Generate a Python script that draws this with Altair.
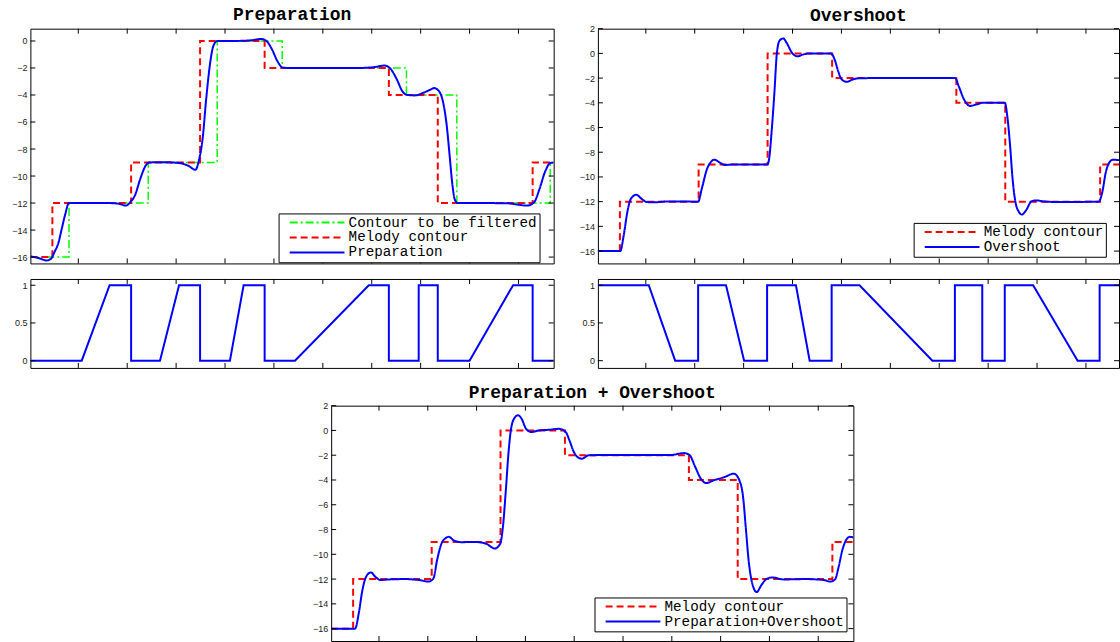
import altair as alt
import pandas as pd

# ---------------- data ----------------
X_MIN = 0.02
X_MAX = 10.72
X_MAX_RIGHT = 10.676

x_tick_values = [1, 2, 3, 4, 5, 6, 7, 8, 9, 10]
prep_y_ticks = [-16, -14, -12, -10, -8, -6, -4, -2, 0]
full_y_ticks = [-16, -14, -12, -10, -8, -6, -4, -2, 0, 2]
weight_y_ticks = [0, 0.5, 1]

melody_x = [0.02, 0.47, 2.08, 3.49, 4.81, 7.35, 8.35, 10.29, 10.72]
melody_y = [-16, -12, -9, 0, -2, -4, -12, -9, -9]
target_x = [0.02, 0.81, 2.43, 3.84, 5.17, 7.71, 8.74, 10.65, 10.72]
target_y = [-16, -12, -9, 0, -2, -4, -12, -9, -9]

prep_x = [0.02, 0.188, 0.356, 0.443, 0.516, 0.589, 0.662, 0.735, 0.808, 1.245, 1.61, 1.828,
          1.974, 2.062, 2.156, 2.266, 2.375, 2.448, 2.703, 3.068, 3.25, 3.396, 3.468, 3.541,
          3.614, 3.687, 3.76, 3.84, 4.161, 4.525, 4.744, 4.853, 4.963, 5.072, 5.181, 5.327,
          5.983, 6.712, 7.076, 7.259, 7.368, 7.514, 7.623, 7.733, 7.878, 8.06, 8.207, 8.279,
          8.374, 8.461, 8.534, 8.593, 8.644, 8.695, 8.753, 9.263, 9.774, 9.992, 10.174, 10.32,
          10.43, 10.539, 10.648, 10.72]
prep_y = [-15.95, -16.07, -16.25, -16.12, -15.6, -15.0, -13.9, -12.8, -12.0, -12.0, -12.0, -12.05,
          -12.19, -11.94, -11.45, -10.22, -9.24, -9.0, -8.97, -9.04, -9.24, -9.54, -8.8, -7.27,
          -4.33, -1.87, -0.39, 0.0, 0.0, 0.05, 0.15, -0.02, -0.64, -1.5, -1.97, -2.0,
          -2.0, -2.0, -1.92, -1.82, -2.0, -2.85, -3.71, -4.0, -4.03, -3.83, -3.59, -3.49,
          -3.71, -4.57, -6.29, -8.5, -10.47, -11.7, -12.0, -12.0, -12.02, -12.12, -12.19, -11.94,
          -10.96, -9.73, -9.04, -9.0]

over_x = [0.02, 0.477, 0.549, 0.622, 0.694, 0.803, 0.912, 1.02, 1.165, 1.455, 2.071, 2.144,
          2.252, 2.325, 2.397, 2.506, 2.615, 2.76, 3.484, 3.521, 3.571, 3.629, 3.68, 3.738,
          3.811, 3.883, 3.992, 4.1, 4.209, 4.354, 4.789, 4.862, 4.934, 5.007, 5.115, 5.224,
          5.369, 5.659, 7.326, 7.398, 7.507, 7.63, 7.761, 7.906, 8.341, 8.399, 8.449, 8.5,
          8.558, 8.631, 8.689, 8.776, 8.884, 8.993, 9.138, 9.428, 10.261, 10.334, 10.406,
          10.479, 10.551, 10.646, 10.72]
over_y = [-16.0, -16.0, -14.7, -12.84, -11.77, -11.44, -11.77, -12.03, -12.05, -11.98, -12.0, -10.96,
          -9.35, -8.82, -8.6, -8.82, -9.03, -9.0, -9.0, -8.55, -6.4, -3.19, 0.03, 1.05,
          1.21, 0.83, 0.03, -0.24, -0.1, 0.0, 0.0, -0.51, -1.45, -2.12, -2.3, -2.12,
          -2.01, -2.0, -2.0, -2.65, -3.73, -4.25, -4.13, -3.99, -4.0, -5.33, -7.48, -10.16,
          -12.03, -12.84, -13.05, -12.7, -11.98, -11.9, -11.98, -12.03, -12.0, -11.23, -9.62,
          -8.82, -8.6, -8.63, -8.65]

both_x = [0.02, 0.51, 0.585, 0.66, 0.736, 0.834, 0.924, 1.037, 1.188, 1.527, 1.828, 2.017,
          2.115, 2.19, 2.281, 2.356, 2.431, 2.544, 2.695, 2.959, 3.185, 3.373, 3.486, 3.539,
          3.599, 3.652, 3.712, 3.788, 3.848, 3.923, 4.014, 4.127, 4.277, 4.466, 4.692, 4.827,
          4.903, 4.993, 5.069, 5.159, 5.295, 5.521, 6.953, 7.254, 7.367, 7.48, 7.593, 7.706,
          7.857, 8.083, 8.271, 8.384, 8.46, 8.52, 8.573, 8.648, 8.738, 8.836, 8.949, 9.062,
          9.288, 9.74, 10.117, 10.245, 10.343, 10.419, 10.494, 10.569, 10.645, 10.72]
both_y = [-16.0, -16.0, -14.77, -12.89, -11.81, -11.46, -11.81, -12.08, -12.03, -12.0, -12.08, -12.2,
          -11.95, -10.47, -9.13, -8.72, -8.59, -8.91, -9.02, -9.0, -9.13, -9.53, -9.13, -7.79,
          -4.83, -1.88, 0.27, 1.07, 1.23, 0.94, 0.13, -0.13, 0.0, 0.05, 0.13, -0.13,
          -0.81, -1.74, -2.15, -2.28, -2.01, -1.99, -1.99, -1.83, -2.01, -2.95, -3.89, -4.25,
          -4.03, -3.76, -3.49, -4.03, -5.37, -8.05, -10.47, -12.35, -13.05, -12.48, -11.97, -11.87,
          -12.03, -12.0, -12.08, -12.2, -12.03, -11.0, -9.66, -8.86, -8.59, -8.64]

wprep_x = [0.02, 1.07, 1.64, 2.08, 2.08, 2.67, 3.06, 3.49, 3.49, 4.1, 4.38, 4.81, 4.81, 5.43, 6.94,
           7.35, 7.35, 7.96, 7.96, 8.35, 8.35, 9.0, 9.89, 10.29, 10.29, 10.72]
wprep_y = [0, 0, 1, 1, 0, 0, 1, 1, 0, 0, 1, 1, 0, 0, 1, 1, 0, 0, 1, 1, 0, 0, 1, 1, 0, 0]

wover_x = [0.02, 1.06, 1.6, 2.07, 2.07, 2.64, 3.01, 3.48, 3.48, 4.07, 4.35, 4.8, 4.8, 5.37, 6.86,
           7.32, 7.32, 7.88, 7.88, 8.34, 8.34, 8.92, 9.83, 10.28, 10.28, 10.72]
wover_y = [1, 1, 0, 0, 1, 1, 0, 0, 1, 1, 0, 0, 1, 1, 0, 0, 1, 1, 0, 0, 1, 1, 0, 0, 1, 1]

S_TARGET = "Contour to be filtered"
S_MELODY = "Melody contour"
S_PREP = "Preparation"
S_OVER = "Overshoot"
S_BOTH = "Preparation+Overshoot"

COLORS = {S_TARGET: "#00ff00", S_MELODY: "#ff0000", S_PREP: "#0000ff", S_OVER: "#0000ff", S_BOTH: "#0000ff"}
DASHES = {S_TARGET: [8, 3, 2, 3], S_MELODY: [7, 4], S_PREP: [1, 0], S_OVER: [1, 0], S_BOTH: [1, 0]}

LABEL_FONT = "Liberation Sans"
MONO = "Liberation Mono"


def df(xs, ys, name):
    return pd.DataFrame({"x": xs, "y": ys, "series": [name] * len(xs)})


def y_axis(vals):
    return alt.Axis(values=vals, ticks=False, domain=False, grid=False, title=None,
                    labelFont=LABEL_FONT, labelFontSize=9, labelColor="#222222",
                    labelPadding=3.5, labelFlush=False, labelOverlap=False, format="~g")


def tick_layers(xmin, xmax, ymin, ymax, yvals, xs, ys, yax):
    xt = pd.DataFrame({"t": x_tick_values})
    yt = pd.DataFrame({"t": yvals})
    st = dict(color="black", strokeWidth=1)
    left = alt.Chart(yt).mark_rule(x2Offset=5, **st).encode(
        y=alt.Y("t:Q", scale=ys, axis=yax),
        x=alt.XDatum(xmin, scale=xs, axis=None), x2=alt.X2Datum(xmin))
    right = alt.Chart(yt).mark_rule(x2Offset=-5, **st).encode(
        y=alt.Y("t:Q", scale=ys, axis=yax),
        x=alt.XDatum(xmax, scale=xs, axis=None), x2=alt.X2Datum(xmax))
    top = alt.Chart(xt).mark_rule(y2Offset=5, **st).encode(
        x=alt.X("t:Q", scale=xs, axis=None),
        y=alt.YDatum(ymax, scale=ys, axis=yax), y2=alt.Y2Datum(ymax))
    bottom = alt.Chart(xt).mark_rule(y2Offset=-5, **st).encode(
        x=alt.X("t:Q", scale=xs, axis=None),
        y=alt.YDatum(ymin, scale=ys, axis=yax), y2=alt.Y2Datum(ymin))
    return [left, right, top, bottom]


def make_legend(lx, ly):
    return alt.Legend(title=None, orient="none", legendX=lx, legendY=ly, direction="vertical",
                      fillColor="white", strokeColor="black", padding=2,
                      labelFont=MONO, labelFontSize=14.3, labelColor="black", labelLimit=500,
                      symbolType="M-5.5,0H5.5", symbolSize=100, symbolStrokeWidth=2,
                      symbolOffset=29.5, labelOffset=24.5, rowPadding=0)


def main_panel(title, series, width, height, xdom, ydom, yvals, legend_xy, title_offset):
    xs = alt.Scale(domain=xdom, nice=False, zero=False)
    ys = alt.Scale(domain=ydom, nice=False, zero=False)
    yax = y_axis(yvals)
    names = [s[2] for s in series]
    cs = alt.Scale(domain=names, range=[COLORS[n] for n in names])
    ds = alt.Scale(domain=names, range=[DASHES[n] for n in names])
    leg = make_legend(*legend_xy)
    layers = []
    for xv, yv, name, interp, sw in series:
        layers.append(
            alt.Chart(df(xv, yv, name)).mark_line(interpolate=interp, strokeWidth=sw, clip=True).encode(
                x=alt.X("x:Q", scale=xs, axis=None),
                y=alt.Y("y:Q", scale=ys, axis=yax),
                color=alt.Color("series:N", scale=cs, legend=leg, sort=names),
                strokeDash=alt.StrokeDash("series:N", scale=ds, legend=leg, sort=names),
            )
        )
    layers += tick_layers(xdom[0], xdom[1], ydom[0], ydom[1], yvals, xs, ys, yax)
    return alt.layer(*layers).properties(
        width=width, height=height,
        title=alt.TitleParams(title, font=MONO, fontSize=18, fontWeight="bold",
                              anchor="middle", offset=title_offset, color="black"))


def weight_panel(xv, yv, width, height, xdom):
    ydom = [-0.096, 1.083]
    xs = alt.Scale(domain=xdom, nice=False, zero=False)
    ys = alt.Scale(domain=ydom, nice=False, zero=False)
    yax = y_axis(weight_y_ticks)
    line = alt.Chart(pd.DataFrame({"x": xv, "y": yv})).mark_line(
        color="#0000ff", strokeWidth=2, clip=True).encode(
        x=alt.X("x:Q", scale=xs, axis=None),
        y=alt.Y("y:Q", scale=ys, axis=yax))
    layers = [line] + tick_layers(xdom[0], xdom[1], ydom[0], ydom[1], weight_y_ticks, xs, ys, yax)
    return alt.layer(*layers).properties(width=width, height=height)


W_LEFT = 525.4
W_RIGHT = 523.2
W_BOTTOM = 524.3
H_MAIN = 235.7
H_SMALL = 89.3

prep_main = main_panel(
    "Preparation",
    [(target_x, target_y, S_TARGET, "step-after", 1.5),
     (melody_x, melody_y, S_MELODY, "step-after", 2),
     (prep_x, prep_y, S_PREP, "monotone", 2)],
    W_LEFT, H_MAIN, [X_MIN, X_MAX], [-16.47, 0.91], prep_y_ticks, (249.2, 185.5), 4.5)

over_main = main_panel(
    "Overshoot",
    [(melody_x, melody_y, S_MELODY, "step-after", 2),
     (over_x, over_y, S_OVER, "monotone", 2)],
    W_RIGHT, H_MAIN, [X_MIN, X_MAX_RIGHT], [-17, 2], full_y_ticks, (317, 195), 0)

both_main = main_panel(
    "Preparation + Overshoot",
    [(melody_x, melody_y, S_MELODY, "step-after", 2),
     (both_x, both_y, S_BOTH, "monotone", 2)],
    W_BOTTOM, 236.3, [X_MIN, X_MAX], [-17, 2], full_y_ticks, (264.4, 192.6), 0)

prep_w = weight_panel(wprep_x, wprep_y, W_LEFT, H_SMALL, [X_MIN, X_MAX])
over_w = weight_panel(wover_x, wover_y, W_RIGHT, H_SMALL, [X_MIN, X_MAX_RIGHT])

spacer = alt.Chart(pd.DataFrame({"a": [0]})).mark_point(opacity=0).encode(
    x=alt.X("a:Q", axis=None), y=alt.Y("a:Q", axis=None)
).properties(width=280.7, height=10, view=alt.ViewBackground(stroke="transparent"))

IND = dict(color="independent", strokeDash="independent")

left_col = alt.vconcat(prep_main, prep_w, spacing=13.3).resolve_scale(**IND)
right_col = alt.vconcat(over_main, over_w, spacing=13.3).resolve_scale(**IND)
row1 = alt.hconcat(left_col, right_col, spacing=22.8).resolve_scale(**IND)
row2 = alt.hconcat(spacer, both_main, spacing=0).resolve_scale(**IND)

chart = alt.vconcat(row1, row2, spacing=13.5).resolve_scale(**IND).properties(
    padding={"left": 10.5, "top": 3.5, "right": 0, "bottom": 0},
    background="white",
).configure_view(stroke="black", strokeWidth=1)

chart.save("out.html", embed_options={"renderer": "svg", "actions": False})
